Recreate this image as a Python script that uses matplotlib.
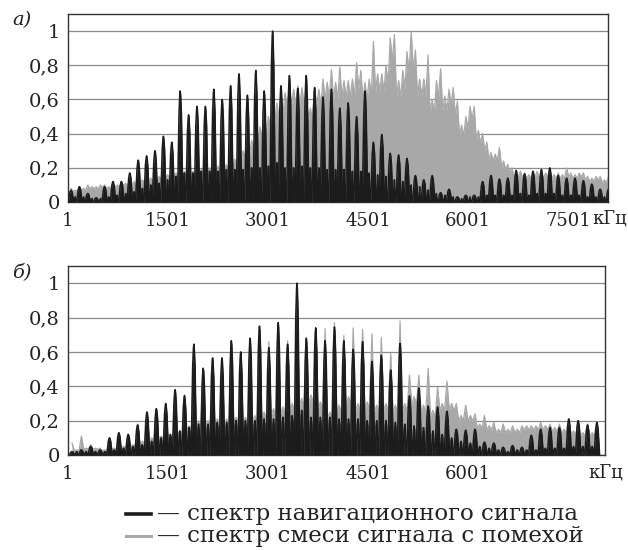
import numpy as np
import matplotlib
matplotlib.use("Agg")
import matplotlib.pyplot as plt
from matplotlib.lines import Line2D

# --- panel a) : comb peaks of the navigation signal ---
a_peak = [0.07, 0.09, 0.05, 0.025, 0.09, 0.12, 0.12, 0.17, 0.245, 0.27,
          0.30, 0.385, 0.35, 0.65, 0.51, 0.56, 0.56, 0.66, 0.60, 0.68,
          0.75, 0.625, 0.77, 0.65, 1.0, 0.68, 0.74, 0.665, 0.74, 0.67,
          0.615, 0.66, 0.55, 0.58, 0.50, 0.65, 0.35, 0.395, 0.285, 0.275,
          0.255, 0.155, 0.13, 0.155, 0.055, 0.075, 0.03, 0.04, 0.04, 0.12,
          0.155, 0.135, 0.14, 0.185, 0.165, 0.18, 0.19, 0.20, 0.155, 0.14,
          0.14, 0.125, 0.105, 0.075, 0.075]
# side lobes between neighbouring peaks
a_side = [0.03, 0.03, 0.02, 0.02, 0.03, 0.04, 0.05, 0.06, 0.08, 0.10,
          0.11, 0.13, 0.15, 0.17, 0.17, 0.18, 0.18, 0.18, 0.19, 0.19,
          0.19, 0.20, 0.20, 0.21, 0.23, 0.20, 0.20, 0.21, 0.20, 0.20,
          0.19, 0.19, 0.19, 0.18, 0.18, 0.17, 0.16, 0.15, 0.13, 0.12,
          0.10, 0.09, 0.07, 0.05, 0.04, 0.03, 0.02, 0.03, 0.03, 0.04,
          0.04, 0.04, 0.04, 0.05, 0.04, 0.05, 0.05, 0.05, 0.04, 0.04,
          0.04, 0.03, 0.03, 0.03]
# signal + interference mix (at peak positions and halfway between)
a_gray_on = [0.08, 0.09, 0.10, 0.09, 0.10, 0.11, 0.12, 0.13, 0.14, 0.15,
             0.16, 0.17, 0.18, 0.19, 0.20, 0.20, 0.21, 0.22, 0.24, 0.26,
             0.28, 0.33, 0.40, 0.47, 0.54, 0.62, 0.67, 0.68, 0.66, 0.67,
             0.72, 0.775, 0.79, 0.71, 0.815, 0.70, 0.94, 0.75, 0.96, 0.71,
             0.88, 0.89, 0.72, 0.60, 0.78, 0.66, 0.59, 0.50, 0.56, 0.40,
             0.29, 0.32, 0.22, 0.17, 0.17, 0.17, 0.16, 0.18, 0.17, 0.20,
             0.16, 0.17, 0.14, 0.15, 0.15]
a_gray_mid = [0.07, 0.08, 0.09, 0.10, 0.09, 0.10, 0.11, 0.12, 0.13, 0.14,
              0.15, 0.16, 0.17, 0.18, 0.18, 0.19, 0.20, 0.21, 0.22, 0.25,
              0.30, 0.36, 0.44, 0.50, 0.58, 0.64, 0.66, 0.67, 0.55, 0.66,
              0.70, 0.70, 0.71, 0.72, 0.77, 0.72, 0.75, 0.80, 0.98, 0.77,
              1.0, 0.72, 0.86, 0.71, 0.62, 0.67, 0.45, 0.56, 0.42, 0.35,
              0.28, 0.24, 0.20, 0.18, 0.16, 0.18, 0.17, 0.16, 0.16, 0.17,
              0.17, 0.15, 0.15, 0.13]

# --- panel б) ---
b_peak = [0.02, 0.03, 0.05, 0.03, 0.10, 0.13, 0.12, 0.175, 0.25, 0.27,
          0.30, 0.38, 0.345, 0.645, 0.505, 0.565, 0.565, 0.665, 0.60, 0.68,
          0.75, 0.625, 0.77, 0.645, 1.0, 0.68, 0.74, 0.665, 0.745, 0.665,
          0.615, 0.66, 0.545, 0.58, 0.495, 0.65, 0.345, 0.39, 0.285, 0.28,
          0.255, 0.15, 0.145, 0.15, 0.075, 0.07, 0.045, 0.055, 0.045, 0.115,
          0.15, 0.16, 0.16, 0.21, 0.20, 0.175, 0.19]
b_side = [0.02, 0.02, 0.02, 0.02, 0.03, 0.04, 0.05, 0.06, 0.08, 0.10,
          0.12, 0.14, 0.16, 0.18, 0.18, 0.19, 0.19, 0.20, 0.20, 0.20,
          0.21, 0.21, 0.22, 0.23, 0.26, 0.22, 0.22, 0.22, 0.21, 0.21,
          0.21, 0.20, 0.20, 0.20, 0.19, 0.18, 0.17, 0.16, 0.14, 0.12,
          0.10, 0.08, 0.07, 0.05, 0.04, 0.03, 0.02, 0.03, 0.03, 0.03,
          0.04, 0.04, 0.04, 0.05, 0.05, 0.05]
b_gray_on = [0.07, 0.11, 0.06, 0.04, 0.10, 0.13, 0.12, 0.18, 0.25, 0.27,
             0.30, 0.38, 0.35, 0.645, 0.505, 0.565, 0.565, 0.665, 0.60, 0.68,
             0.75, 0.66, 0.77, 0.665, 1.0, 0.68, 0.74, 0.735, 0.77, 0.695,
             0.74, 0.73, 0.705, 0.685, 0.59, 0.78, 0.465, 0.465, 0.505, 0.395,
             0.43, 0.30, 0.29, 0.24, 0.23, 0.19, 0.18, 0.17, 0.17, 0.17,
             0.19, 0.18, 0.18, 0.21, 0.20, 0.18, 0.19]
b_gray_mid = [0.03, 0.04, 0.04, 0.03, 0.04, 0.05, 0.06, 0.08, 0.10, 0.11,
              0.12, 0.14, 0.17, 0.20, 0.20, 0.21, 0.21, 0.22, 0.22, 0.23,
              0.25, 0.27, 0.28, 0.30, 0.33, 0.35, 0.31, 0.25, 0.29, 0.34,
              0.30, 0.31, 0.29, 0.30, 0.29, 0.30, 0.34, 0.29, 0.26, 0.30,
              0.30, 0.23, 0.23, 0.18, 0.17, 0.15, 0.15, 0.15, 0.17, 0.17,
              0.17, 0.16, 0.15, 0.14, 0.13, 0.13]

# comb: first peak frequency and spacing (kHz) for each panel
a_f0, a_step, a_xmax = 46, 126.0, 8101
b_f0, b_step, b_xmax = 61, 140.6, 8056
a_ticks = [1, 1501, 3001, 4501, 6001, 7501]
b_ticks = [1, 1501, 3001, 4501, 6001]
y_ticks = [0, 0.2, 0.4, 0.6, 0.8, 1.0]
y_labels = ["0", "0,2", "0,4", "0,6", "0,8", "1"]

BLACK = "#1c1c1c"
GRAY = "#a8a8a8"
TXT = "#222222"
SERIF = "DejaVu Serif"
PX = 15.0   # kHz per pixel on both axes


def black_curve(f0, step, peaks, sides):
    # main lobe as a narrow spike, one side lobe between neighbours,
    # separated by thin zero-dips
    hw = 2.7 * PX
    gap = 0.9 * PX
    xs, ys = [f0 - hw], [0.0]
    for i, h in enumerate(peaks):
        f = f0 + i * step
        xs += [f - 1.2 * PX, f - 0.4 * PX, f, f + 0.4 * PX, f + 1.2 * PX, f + hw]
        ys += [h * 0.8, h * 0.97, h, h * 0.97, h * 0.8, 0.0]
        if i < len(sides):
            s = sides[i]
            a0 = f + hw + gap
            a1 = f + step - hw - gap
            xs += [a0, a0 + 0.5 * PX, (a0 + a1) / 2, a1 - 0.5 * PX, a1, f + step - hw]
            ys += [0.0, s * 0.85, s, s * 0.85, 0.0, 0.0]
    return np.array(xs), np.array(ys)


def gray_curve(f0, step, on, mid):
    xs, ys = [], []
    for i, v in enumerate(on):
        xs.append(f0 + i * step)
        ys.append(v)
        if i < len(mid):
            xs.append(f0 + i * step + step / 2)
            ys.append(mid[i])
    # small notch between samples so the mix keeps its ragged look
    gx, gy = [xs[0]], [ys[0]]
    for k in range(1, len(xs)):
        gx += [(xs[k - 1] + xs[k]) / 2, xs[k]]
        gy += [0.86 * min(ys[k - 1], ys[k]), ys[k]]
    return np.array(gx), np.array(gy)


def draw_panel(ax, f0, step, peaks, sides, g_on, g_mid, xmax, ticks):
    gx, gy = gray_curve(f0, step, g_on, g_mid)
    ax.fill_between(gx, 0, gy, color=GRAY, lw=0, zorder=2)
    ax.plot(gx, gy, color=GRAY, lw=0.9, zorder=2)
    bx, by = black_curve(f0, step, peaks, sides)
    ax.fill_between(bx, 0, by, color=BLACK, lw=0, zorder=3)
    ax.plot(bx, by, color=BLACK, lw=1.1, zorder=3, solid_joinstyle="round")

    ax.set_xlim(1, xmax)
    ax.set_ylim(0, 1.1)
    ax.set_yticks(y_ticks)
    ax.set_yticklabels(y_labels)
    ax.set_xticks(ticks)
    ax.set_xticklabels([str(t) for t in ticks])
    ax.yaxis.grid(True, color="#8a8a8a", lw=0.9)
    ax.set_axisbelow(True)
    ax.tick_params(length=0, labelsize=14, colors=TXT, pad=6)
    ax.tick_params(axis="x", pad=7, labelsize=13)
    for lab in ax.get_xticklabels() + ax.get_yticklabels():
        lab.set_family(SERIF)
    for sp in ax.spines.values():
        sp.set_color("#333333")
        sp.set_linewidth(1.0)


fig = plt.figure(figsize=(6.28, 5.5), dpi=100)
W, H = 628, 550
ax_a = fig.add_axes([68 / W, 1 - 202 / H, 540 / W, 188 / H])
ax_b = fig.add_axes([68 / W, 1 - 455 / H, 537 / W, 189 / H])

draw_panel(ax_a, a_f0, a_step, a_peak, a_side, a_gray_on, a_gray_mid, a_xmax, a_ticks)
draw_panel(ax_b, b_f0, b_step, b_peak, b_side, b_gray_on, b_gray_mid, b_xmax, b_ticks)

fig.text(22 / W, 1 - 20 / H, "а)", family=SERIF, style="italic", fontsize=14,
         color=TXT, ha="center", va="center")
fig.text(22 / W, 1 - 272 / H, "б)", family=SERIF, style="italic", fontsize=14,
         color=TXT, ha="center", va="center")
fig.text(610 / W, 1 - 219 / H, "кГц", family=SERIF, fontsize=13,
         color=TXT, ha="center", va="center")
fig.text(606 / W, 1 - 472 / H, "кГц", family=SERIF, fontsize=13,
         color=TXT, ha="center", va="center")

# legend
fig.add_artist(Line2D([126 / W, 151 / W], [1 - 514 / H, 1 - 514 / H],
                      color=BLACK, lw=2.6))
fig.add_artist(Line2D([126 / W, 151 / W], [1 - 536 / H, 1 - 536 / H],
                      color=GRAY, lw=2.2))
fig.text(157 / W, 1 - 514 / H, "— спектр навигационного сигнала",
         family=SERIF, fontsize=16.5, color=TXT, va="center")
fig.text(157 / W, 1 - 536 / H, "— спектр смеси сигнала с помехой",
         family=SERIF, fontsize=16.5, color=TXT, va="center")

fig.savefig("out.png", dpi=100)
